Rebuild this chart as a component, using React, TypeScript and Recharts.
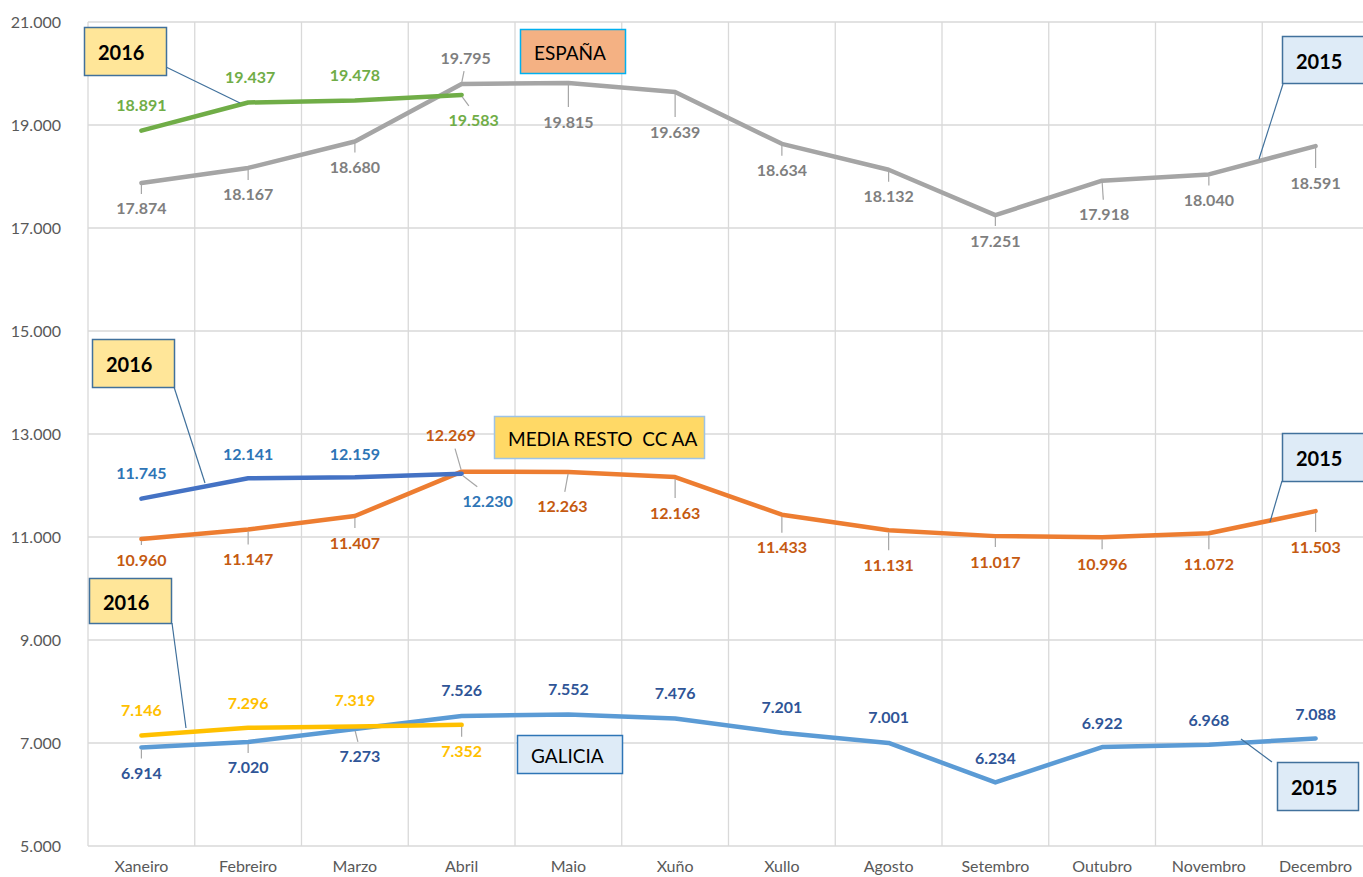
import React from 'react';
import { LineChart, Line, XAxis, YAxis, CartesianGrid, LabelList } from 'recharts';

const months = ['Xaneiro', 'Febreiro', 'Marzo', 'Abril', 'Maio', 'Xuño', 'Xullo', 'Agosto', 'Setembro', 'Outubro', 'Novembro', 'Decembro'];
const espana2015 = [17874, 18167, 18680, 19795, 19815, 19639, 18634, 18132, 17251, 17918, 18040, 18591];
const espana2016 = [18891, 19437, 19478, 19583];
const resto2015 = [10960, 11147, 11407, 12269, 12263, 12163, 11433, 11131, 11017, 10996, 11072, 11503];
const resto2016 = [11745, 12141, 12159, 12230];
const galicia2015 = [6914, 7020, 7273, 7526, 7552, 7476, 7201, 7001, 6234, 6922, 6968, 7088];
const galicia2016 = [7146, 7296, 7319, 7352];
const yTicks = [5000, 7000, 9000, 11000, 13000, 15000, 17000, 19000, 21000];
const gridTicks = [0, 1, 2, 3, 4, 5, 6, 7, 8, 9, 10, 11, 12];

// label placement (dx, dy) relative to each point
const espana2015Off = [[0, 25], [0, 26], [0, 25], [4, -27], [0, 38], [0, 39], [0, 26], [0, 26], [0, 25], [2, 33], [0, 25], [0, 36]];
const espana2016Off = [[0, -26], [2, -26], [0, -26], [12, 25]];
const resto2015Off = [[0, 20], [0, 29], [0, 26], [-11, -37], [-6, 34], [0, 35], [0, 32], [0, 34], [0, 25], [0, 26], [0, 30], [0, 35]];
const resto2016Off = [[0, -26], [0, -25], [0, -24], [26, 27]];
const galicia2015Off = [[0, 25], [0, 25], [5, 27], [0, -26], [0, -26], [0, -26], [0, -26], [0, -26], [0, -25], [0, -25], [0, -25], [0, -25]];
const galicia2016Off = [[0, -26], [0, -25], [0, -27], [0, 26]];

const data = months.map((m, i) => ({
  month: m,
  idx: i,
  espana2015: espana2015[i],
  espana2016: i < espana2016.length ? espana2016[i] : null,
  resto2015: resto2015[i],
  resto2016: i < resto2016.length ? resto2016[i] : null,
  galicia2015: galicia2015[i],
  galicia2016: i < galicia2016.length ? galicia2016[i] : null,
}));

const fmt = (v: number) => Math.round(v).toString().replace(/\B(?=(\d{3})+(?!\d))/g, '.');
const FONT = 'Lato, "Open Sans", sans-serif';

const makeLabel = (color: string, offs: number[][], is2016: boolean) => (props: any) => {
  const { x, y, value, index } = props;
  if (value === null || value === undefined || x == null || y == null) return null;
  const [dx, dy] = offs[index] || [0, 20];
  const s = dy > 0 ? 1 : -1;
  const leader = is2016 ? dy > 0 : dy > 0 || Math.abs(dy) >= 27;
  const len = Math.abs(dy) - 14;
  return (
    <g>
      {leader && len > 4 && (
        <line x1={x + dx * 0.05} y1={y + s * 2} x2={x + dx * 0.6} y2={y + s * len} stroke="#A6A6A6" strokeWidth={1.2} />
      )}
      <text x={x + dx} y={y + dy} textAnchor="middle" dominantBaseline="central" fill={color} fontWeight={700} fontSize={16} fontFamily={FONT}>
        {fmt(value)}
      </text>
    </g>
  );
};

const boxes = [
  { x: 84, y: 27, w: 82, h: 48, fill: '#FFE699', stroke: '#41719C', text: '2016', bold: true, lx1: 166, ly1: 67, lx2: 240, ly2: 103 },
  { x: 520, y: 29, w: 105, h: 44, fill: '#F4B183', stroke: '#00B0F0', text: 'ESPAÑA', bold: false },
  { x: 1282, y: 36, w: 84, h: 47, fill: '#DEEBF7', stroke: '#41719C', text: '2015', bold: true, lx1: 1283, ly1: 84, lx2: 1259, ly2: 159 },
  { x: 92, y: 339, w: 82, h: 48, fill: '#FFE699', stroke: '#41719C', text: '2016', bold: true, lx1: 174, ly1: 387, lx2: 205, ly2: 483 },
  { x: 494, y: 416, w: 210, h: 42, fill: '#FFD966', stroke: '#9DC3E6', text: 'MEDIA RESTO  CC AA', bold: false },
  { x: 1282, y: 433, w: 84, h: 48, fill: '#DEEBF7', stroke: '#41719C', text: '2015', bold: true, lx1: 1282, ly1: 481, lx2: 1270, ly2: 522 },
  { x: 89, y: 578, w: 82, h: 45, fill: '#FFE699', stroke: '#41719C', text: '2016', bold: true, lx1: 172, ly1: 623, lx2: 186, ly2: 728 },
  { x: 517, y: 735, w: 105, h: 38, fill: '#DEEBF7', stroke: '#2E75B6', text: 'GALICIA', bold: false },
  { x: 1277, y: 762, w: 81, h: 48, fill: '#DEEBF7', stroke: '#41719C', text: '2015', bold: true, lx1: 1272, ly1: 762, lx2: 1241, ly2: 739 },
];

export default function App() {
  return (
    <div style={{ position: 'absolute', left: 0, top: 0, width: 1363, height: 877, overflow: 'hidden', background: '#fff', fontFamily: FONT }}>
      <LineChart width={1369} height={877} data={data} margin={{ top: 22, right: 0, left: 0, bottom: 0 }}>
        <XAxis xAxisId="grid" type="number" dataKey="idx" domain={[0, 12]} ticks={gridTicks} hide allowDataOverflow />
        <CartesianGrid xAxisId="grid" stroke="#D9D9D9" strokeWidth={1.3} />
        <XAxis
          dataKey="month"
          interval={0}
          padding={{ left: 53.4, right: 53.4 }}
          axisLine={false}
          tickLine={false}
          tickSize={0}
          tickMargin={15}
          height={31}
          tick={{ fill: '#595959', fontSize: 16, fontFamily: FONT }}
        />
        <YAxis
          domain={[5000, 21000]}
          ticks={yTicks}
          tickFormatter={fmt}
          width={88}
          axisLine={false}
          tickLine={false}
          tickSize={0}
          tickMargin={27}
          tick={{ fill: '#595959', fontSize: 16, fontFamily: FONT }}
          allowDataOverflow
        />
        <Line dataKey="espana2015" stroke="#A5A5A5" strokeWidth={4.5} dot={false} isAnimationActive={false} strokeLinecap="round" strokeLinejoin="round">
          <LabelList dataKey="espana2015" content={makeLabel('#7F7F7F', espana2015Off, false)} />
        </Line>
        <Line dataKey="resto2015" stroke="#ED7D31" strokeWidth={4.5} dot={false} isAnimationActive={false} strokeLinecap="round" strokeLinejoin="round">
          <LabelList dataKey="resto2015" content={makeLabel('#C55A11', resto2015Off, false)} />
        </Line>
        <Line dataKey="galicia2015" stroke="#5B9BD5" strokeWidth={4.5} dot={false} isAnimationActive={false} strokeLinecap="round" strokeLinejoin="round">
          <LabelList dataKey="galicia2015" content={makeLabel('#2F5597', galicia2015Off, false)} />
        </Line>
        <Line dataKey="espana2016" stroke="#70AD47" strokeWidth={4.5} dot={false} isAnimationActive={false} strokeLinecap="round" strokeLinejoin="round">
          <LabelList dataKey="espana2016" content={makeLabel('#70AD47', espana2016Off, true)} />
        </Line>
        <Line dataKey="resto2016" stroke="#4472C4" strokeWidth={4.5} dot={false} isAnimationActive={false} strokeLinecap="round" strokeLinejoin="round">
          <LabelList dataKey="resto2016" content={makeLabel('#2E75B6', resto2016Off, true)} />
        </Line>
        <Line dataKey="galicia2016" stroke="#FFC000" strokeWidth={4.5} dot={false} isAnimationActive={false} strokeLinecap="round" strokeLinejoin="round">
          <LabelList dataKey="galicia2016" content={makeLabel('#FFC000', galicia2016Off, true)} />
        </Line>
      </LineChart>
      <svg width={1363} height={877} style={{ position: 'absolute', left: 0, top: 0, pointerEvents: 'none' }}>
        {boxes.map((b, i) => (
          <g key={i}>
            {b.lx1 !== undefined && <line x1={b.lx1} y1={b.ly1} x2={b.lx2} y2={b.ly2} stroke="#41719C" strokeWidth={1.2} />}
            <rect x={b.x + 0.5} y={b.y + 0.5} width={b.w} height={b.h} fill={b.fill} stroke={b.stroke} strokeWidth={1.5} />
            <text
              x={b.x + 14}
              y={b.y + b.h / 2 + 1}
              dominantBaseline="central"
              fill="#000"
              fontFamily={FONT}
              fontWeight={b.bold ? 700 : 400}
              fontSize={b.bold ? 20 : 19}
              style={{ whiteSpace: 'pre' }}
            >
              {b.text}
            </text>
          </g>
        ))}
      </svg>
    </div>
  );
}
